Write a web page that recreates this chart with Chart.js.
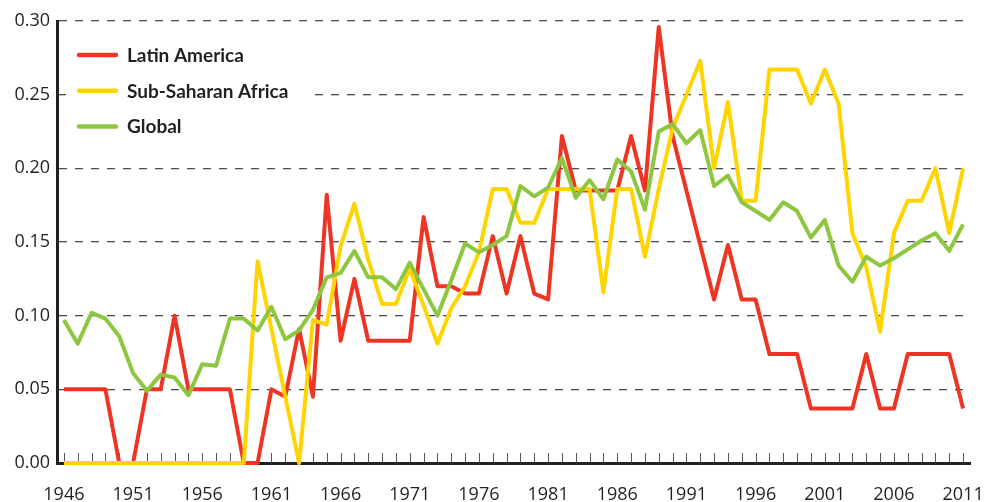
<!DOCTYPE html>
<html>
<head>
<meta charset="utf-8">
<script src="https://cdn.jsdelivr.net/npm/chart.js@4.4.1/dist/chart.umd.min.js"></script>
<style>
    html, body { margin: 0; padding: 0; background: #fff; }
    #wrap { width: 986px; height: 502px; position: relative; }
</style>
</head>
<body>
<div id="wrap"><canvas id="chart"></canvas></div>
<script>
// Years 1946 - 2011
const years = [];
for (let y = 1946; y <= 2011; y++) years.push(String(y));

const latinAmerica = [
    0.05, 0.05, 0.05, 0.05, 0, 0, 0.05, 0.05, 0.10, 0.05,
    0.05, 0.05, 0.05, 0, 0, 0.05, 0.045, 0.091, 0.045, 0.182,
    0.083, 0.125, 0.083, 0.083, 0.083, 0.083, 0.167, 0.12, 0.12, 0.115,
    0.115, 0.154, 0.115, 0.154, 0.115, 0.111, 0.222, 0.185, 0.185, 0.185,
    0.185, 0.222, 0.185, 0.296, 0.222, 0.185, 0.148, 0.111, 0.148, 0.111,
    0.111, 0.074, 0.074, 0.074, 0.037, 0.037, 0.037, 0.037, 0.074, 0.037,
    0.037, 0.074, 0.074, 0.074, 0.074, 0.037
];

const subSaharanAfrica = [
    0, 0, 0, 0, 0, 0, 0, 0, 0, 0,
    0, 0, 0, 0, 0.137, 0.091, 0.045, 0, 0.097, 0.094,
    0.147, 0.176, 0.138, 0.108, 0.108, 0.132, 0.107, 0.081, 0.105, 0.12,
    0.143, 0.186, 0.186, 0.163, 0.163, 0.186, 0.186, 0.186, 0.186, 0.116,
    0.186, 0.186, 0.14, 0.186, 0.227, 0.25, 0.273, 0.2, 0.245, 0.178,
    0.178, 0.267, 0.267, 0.267, 0.244, 0.267, 0.244, 0.156, 0.133, 0.089,
    0.156, 0.178, 0.178, 0.2, 0.156, 0.2
];

const global = [
    0.097, 0.081, 0.102, 0.098, 0.086, 0.061, 0.049, 0.060, 0.058, 0.046,
    0.067, 0.066, 0.098, 0.098, 0.090, 0.106, 0.084, 0.090, 0.104, 0.126,
    0.129, 0.144, 0.126, 0.126, 0.118, 0.136, 0.118, 0.100, 0.124, 0.149,
    0.143, 0.148, 0.154, 0.188, 0.181, 0.187, 0.207, 0.180, 0.192, 0.179,
    0.206, 0.198, 0.172, 0.225, 0.230, 0.217, 0.226, 0.188, 0.195, 0.177,
    0.171, 0.165, 0.177, 0.171, 0.153, 0.165, 0.134, 0.123, 0.140, 0.134,
    0.139, 0.145, 0.151, 0.156, 0.144, 0.162
];

const yTicks = [0, 0.05, 0.10, 0.15, 0.20, 0.25, 0.30];

const RED = '#ee3524';
const YELLOW = '#ffd400';
const GREEN = '#8dc63f';
const INK = '#231f20';

Chart.defaults.font.family = "'Open Sans', sans-serif";
Chart.defaults.color = INK;

// Small inward tick marks on the year axis
const innerTicks = {
    id: 'innerTicks',
    beforeDatasetsDraw(chart) {
        const x = chart.scales.x;
        const ctx = chart.ctx;
        const bottom = chart.chartArea.bottom;
        ctx.save();
        ctx.strokeStyle = '#555';
        ctx.lineWidth = 1;
        ctx.beginPath();
        years.forEach((_, i) => {
            const px = Math.round(x.getPixelForValue(i)) + 0.5;
            ctx.moveTo(px, bottom - 10);
            ctx.lineTo(px, bottom);
        });
        ctx.stroke();
        ctx.restore();
    }
};

// Legend inside the plot, top left, on a white patch that hides the grid
const insideLegend = {
    id: 'insideLegend',
    beforeDatasetsDraw(chart) {
        const ctx = chart.ctx;
        ctx.save();
        ctx.fillStyle = '#fff';
        ctx.fillRect(66, 38, 245, 104);
        ctx.restore();
    },
    afterDraw(chart) {
        const ctx = chart.ctx;
        ctx.save();
        chart.data.datasets.forEach((ds, i) => {
            const y = 55 + i * 35.7;
            ctx.strokeStyle = ds.borderColor;
            ctx.lineWidth = 4.5;
            ctx.lineCap = 'round';
            ctx.beginPath();
            ctx.moveTo(79, y);
            ctx.lineTo(116, y);
            ctx.stroke();
            ctx.fillStyle = INK;
            ctx.font = "bold 19px Lato, 'Open Sans', sans-serif";
            ctx.textBaseline = 'alphabetic';
            ctx.fillText(ds.label, 127, y + 6.8);
        });
        ctx.restore();
    }
};

const lineDs = (label, data, color, order) => ({
    label: label,
    data: data,
    borderColor: color,
    backgroundColor: color,
    borderWidth: 4,
    borderJoinStyle: 'round',
    pointRadius: 0,
    tension: 0,
    fill: false,
    clip: 6,
    order: order
});

new Chart(document.getElementById('chart').getContext('2d'), {
    type: 'line',
    data: {
        labels: years,
        datasets: [
            lineDs('Latin America', latinAmerica, RED, 3),
            lineDs('Sub-Saharan Africa', subSaharanAfrica, YELLOW, 2),
            lineDs('Global', global, GREEN, 1)
        ]
    },
    options: {
        responsive: true,
        maintainAspectRatio: false,
        animation: false,
        layout: {
            padding: { top: 21, right: 16, left: 0, bottom: 0 }
        },
        plugins: {
            legend: { display: false },
            tooltip: { enabled: false }
        },
        scales: {
            x: {
                type: 'category',
                offset: true,
                afterFit: s => {
                    s.height = 39;
                    s.paddingLeft = 0;
                    s.paddingRight = 0;
                },
                grid: {
                    display: true,
                    drawOnChartArea: false,
                    drawTicks: false,
                    offset: false
                },
                border: { display: true, color: INK, width: 3 },
                ticks: {
                    autoSkip: false,
                    maxRotation: 0,
                    padding: 21,
                    font: { size: 18 },
                    color: INK,
                    callback: (v, i) => ((i % 5) === 0 ? years[i] : '')
                }
            },
            y: {
                min: 0,
                max: 0.3,
                afterFit: s => {
                    s.width = 57;
                    s.paddingTop = 0;
                    s.paddingBottom = 0;
                },
                afterBuildTicks: s => { s.ticks = yTicks.map(v => ({ value: v })); },
                grid: {
                    drawTicks: false,
                    lineWidth: 1.3,
                    color: c => (c.tick && c.tick.value === 0 ? 'rgba(0,0,0,0)' : '#4d4d4d')
                },
                border: { display: true, color: INK, width: 3, dash: [8, 8] },
                ticks: {
                    padding: 7,
                    font: { size: 18 },
                    color: INK,
                    callback: v => Number(v).toFixed(2)
                }
            }
        }
    },
    plugins: [innerTicks, insideLegend]
});
</script>
</body>
</html>
